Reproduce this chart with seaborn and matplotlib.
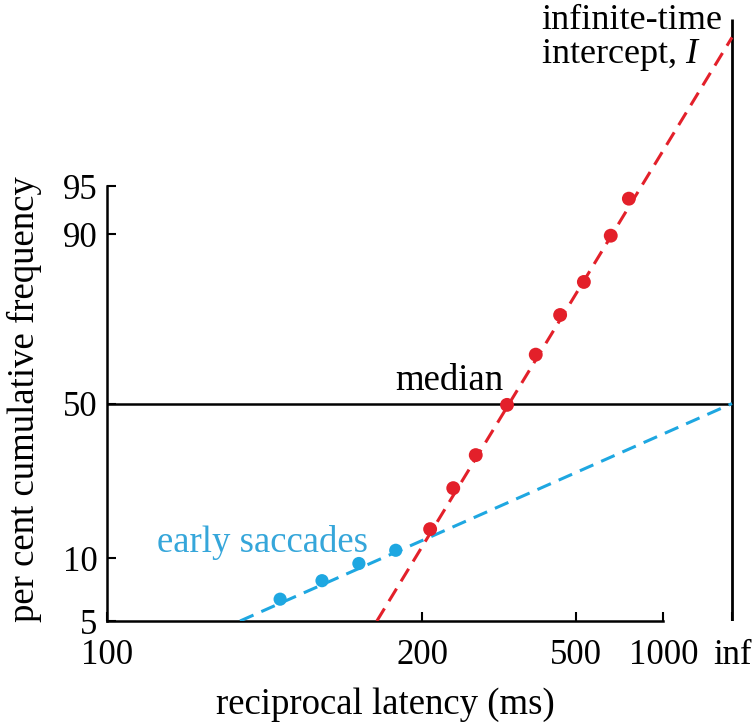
import numpy as np
import pandas as pd
import seaborn as sns
import matplotlib
matplotlib.use("Agg")
import matplotlib.pyplot as plt

# axis units: x = -1000/latency (s^-1), y = probit (z score)
RED_X = [-4.83, -4.46, -4.10, -3.60, -3.14, -2.75, -2.37, -1.94, -1.65]
RED_Z = [-0.95, -0.64, -0.39, -0.01, 0.37, 0.67, 0.92, 1.27, 1.55]
BLUE_X = [-7.23, -6.56, -5.97, -5.38]
BLUE_Z = [-1.48, -1.34, -1.21, -1.11]

# fitted lines (slope, intercept at infinite time)
RED_FIT = (0.777, 2.77)
BLUE_FIT = (0.209, 0.0)

X_TICK_POS = [-10, -4.96, -2.5, -1.1, 0]
X_TICK_LABELS = ["100", "200", "500", "1000", "inf"]
Y_TICK_POS = [-1.645, -1.17, 0, 1.2816, 1.645]
Y_TICK_LABELS = ["5", "10", "50", "90", "95"]

RED = "#e3202a"
BLUE = "#1ea7e1"
BLUE_TEXT = "#35a6da"

sns.set_theme(style="white")
plt.rcParams["font.family"] = ["Liberation Serif", "DejaVu Serif"]
plt.rcParams["mathtext.fontset"] = "custom"
plt.rcParams["mathtext.rm"] = "Liberation Serif"
plt.rcParams["mathtext.it"] = "Liberation Serif:italic"
plt.rcParams["text.color"] = "black"
plt.rcParams["axes.labelcolor"] = "black"

TXT = 26.5

fig = plt.figure(figsize=(7.54, 7.23), dpi=100)
ax = fig.add_axes([107 / 754, 102 / 723, 647 / 754, 621 / 723])
x_lo, x_hi = -10, 0.352
y_lo, y_hi = -1.645, 3.053
ax.set_xlim(x_lo, x_hi)
ax.set_ylim(y_lo, y_hi)

# fit lines, from the bottom of the plot to infinite time
for (slope, icpt), col in [(RED_FIT, RED), (BLUE_FIT, BLUE)]:
    x_start = (y_lo - icpt) / slope
    xs = np.array([x_start, 0.0])
    df = pd.DataFrame({"x": xs, "z": slope * xs + icpt})
    sns.lineplot(data=df, x="x", y="z", ax=ax, color=col, lw=2.2,
                 dashes=False, linestyle=(0, (4.8, 2.8)), zorder=3)

# median and infinite-time lines
ax.hlines(0, x_lo, 0, color="black", lw=1.8, zorder=2)
ax.vlines(0, y_lo, 2.91, color="black", lw=2.0, zorder=2)

red_df = pd.DataFrame({"x": RED_X, "z": RED_Z})
blue_df = pd.DataFrame({"x": BLUE_X, "z": BLUE_Z})
sns.scatterplot(data=red_df, x="x", y="z", ax=ax, color=RED, s=100,
                edgecolor="none", zorder=4)
sns.scatterplot(data=blue_df, x="x", y="z", ax=ax, color=BLUE, s=90,
                edgecolor="none", zorder=4)

ax.set_xticks(X_TICK_POS)
ax.set_xticklabels(X_TICK_LABELS)
ax.set_yticks(Y_TICK_POS)
ax.set_yticklabels(Y_TICK_LABELS)
ax.tick_params(direction="in", length=6.5, width=1.5, labelsize=25,
               colors="black", left=True, bottom=True)
ax.tick_params(axis="x", pad=13)
ax.tick_params(axis="y", pad=7)

for side in ["top", "right"]:
    ax.spines[side].set_visible(False)
for side in ["left", "bottom"]:
    ax.spines[side].set_linewidth(1.8)
    ax.spines[side].set_color("black")
ax.spines["left"].set_bounds(-1.645, 1.645)
ax.spines["bottom"].set_bounds(-10, -1.1)

ax.set_xlabel("reciprocal latency (ms)", fontsize=TXT)
ax.set_ylabel("per cent cumulative frequency", fontsize=TXT)
ax.xaxis.set_label_coords(0.43, -0.135)
ax.yaxis.set_label_coords(-0.128, 0.357)
ax.xaxis.label.set_va("center")
ax.yaxis.label.set_va("center")

ax.text(-3.66, 0.10, "median", fontsize=TXT, ha="right", va="baseline")
ax.text(-9.2, -1.12, "early saccades", fontsize=TXT, color=BLUE_TEXT,
        ha="left", va="baseline")
ax.text(-3.06, 2.83, "infinite-time", fontsize=26, ha="left", va="baseline")
ax.text(-3.06, 2.58, r"intercept, $I$", fontsize=26, ha="left", va="baseline")

fig.savefig("out.png", dpi=100)
